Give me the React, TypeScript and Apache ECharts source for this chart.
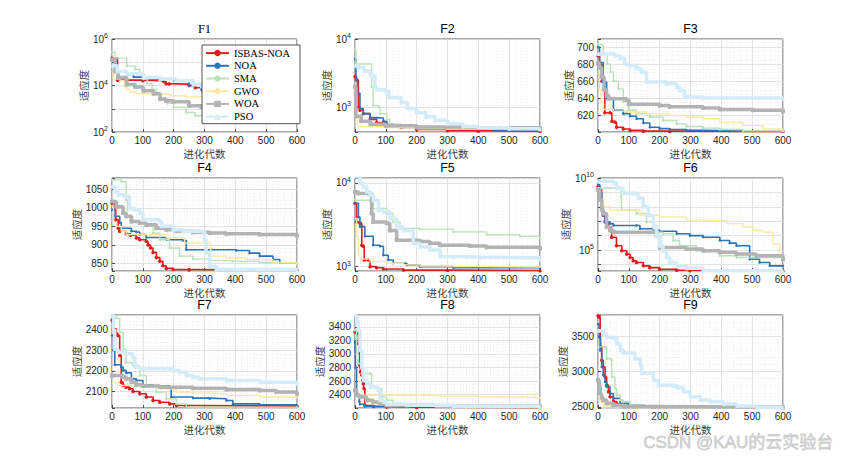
import React, { useEffect, useRef } from 'react';
import * as echarts from 'echarts';

type Pt = [number, number];

const SERIES_NAMES = ['ISBAS-NOA', 'NOA', 'SMA', 'GWO', 'WOA', 'PSO'];
const PANEL_TITLES = ['F1', 'F2', 'F3', 'F4', 'F5', 'F6', 'F7', 'F8', 'F9'];
const X_RANGE = [0, 600];
const X_STEP = 100;
const X_NAME = '进化代数';
const Y_NAME = '适应度';
const WATERMARK = 'CSDN @KAU的云实验台';

// y axis description per panel
const Y_TYPES = ['log', 'log', 'value', 'value', 'log', 'log', 'value', 'value', 'value'];
const Y_MIN = [100, 430, 600.5, 830, 888, 3500, 2020, 2202, 2485];
const Y_MAX = [1e6, 1e4, 709.5, 1080, 11400, 1e10, 2470, 3575, 3800];
const Y_LOG_EXPONENTS: number[][] = [[2, 4, 6], [3, 4], [], [], [3, 4], [5, 10], [], [], []];
const Y_LABEL_STEP = [0, 0, 20, 50, 0, 0, 100, 200, 500];
const Y_SPLIT_NUMBER = [5, 5, 5, 5, 5, 5, 5, 7, 3];
const Y_MINOR_SPLIT = [0, 0, 4, 5, 0, 0, 5, 4, 5];

// ---------- F1 ----------
const F1_ISBAS: Pt[] = [[0, 1.5e5], [18, 1.7e4], [100, 1.6e4], [167, 1.5e4], [175, 1.2e4], [185, 1.15e4], [250, 1.0e4], [270, 8e3], [295, 6e3], [330, 4.5e3], [380, 3e3], [430, 1.8e3], [480, 1.1e3], [530, 800], [570, 600], [600, 560]];
const F1_NOA: Pt[] = [[0, 1.3e5], [15, 3.8e4], [50, 3e4], [70, 2.3e4], [100, 1.85e4], [200, 1.7e4], [250, 1.0e4], [290, 6.6e3], [340, 4.5e3], [400, 3e3], [460, 2e3], [520, 1.6e3], [560, 1.4e3], [590, 1.0e3], [600, 1.0e3]];
const F1_SMA: Pt[] = [[0, 2.7e5], [10, 1.5e5], [48, 7e4], [75, 5e4], [90, 3e4], [102, 1.9e4], [115, 1.2e4], [130, 7e3], [145, 4.5e3], [160, 2.6e3], [180, 1.7e3], [200, 1.15e3], [240, 700], [270, 500], [300, 460], [400, 420], [600, 400]];
const F1_GWO: Pt[] = [[0, 3.5e4], [5, 1.9e4], [26, 1.6e4], [40, 9e3], [48, 7e3], [60, 5.1e3], [80, 4.4e3], [156, 4.2e3], [188, 3.6e3], [240, 3.2e3], [300, 2.8e3], [400, 2.5e3], [500, 2.3e3], [600, 2.2e3]];
const F1_WOA: Pt[] = [[0, 1.3e5], [10, 4e4], [20, 2.2e4], [48, 1.1e4], [75, 8.7e3], [102, 6e3], [135, 4.4e3], [156, 2.6e3], [175, 2.2e3], [199, 2e3], [250, 1.35e3], [290, 1.2e3], [350, 1.05e3], [450, 950], [550, 870], [600, 830]];
const F1_PSO: Pt[] = [[0, 7e4], [17, 4e4], [48, 3.2e4], [102, 2.2e4], [156, 1.9e4], [210, 1.6e4], [264, 1.1e4], [290, 9e3], [330, 6e3], [380, 3e3], [430, 1.2e3], [480, 600], [530, 420], [570, 380], [600, 360]];

// ---------- F2 ----------
const F2_ISBAS: Pt[] = [[0, 2.8e3], [5, 2.5e3], [11, 1.0e3], [16, 900], [27, 800], [49, 660], [70, 590], [103, 540], [150, 500], [200, 470], [300, 450], [400, 442], [600, 436]];
const F2_NOA: Pt[] = [[0, 5.1e3], [3, 2.5e3], [8, 1.6e3], [16, 950], [27, 800], [49, 700], [70, 690], [92, 620], [103, 560], [124, 520], [200, 500], [300, 480], [450, 460], [600, 450]];
const F2_SMA: Pt[] = [[0, 7e3], [3, 4.3e3], [54, 2e3], [59, 1.05e3], [76, 1.0e3], [81, 800], [103, 660], [113, 560], [150, 500], [300, 480], [600, 460]];
const F2_GWO: Pt[] = [[0, 1.5e3], [3, 700], [8, 520], [100, 500], [200, 480], [400, 470], [600, 465]];
const F2_WOA: Pt[] = [[0, 2e3], [3, 730], [20, 620], [50, 560], [100, 530], [200, 510], [400, 495], [600, 480]];
const F2_PSO: Pt[] = [[0, 4.05e3], [10, 3.8e3], [30, 3.4e3], [50, 2.9e3], [65, 2.0e3], [70, 1.8e3], [100, 1.7e3], [110, 1.38e3], [140, 1.38e3], [150, 1.17e3], [170, 950], [200, 830], [230, 720], [260, 640], [300, 570], [350, 520], [400, 495], [500, 480], [600, 470]];

// ---------- F3 ----------
const F3_ISBAS: Pt[] = [[0, 690], [5, 680], [13, 660], [22, 623], [39, 623], [45, 613], [55, 612], [60, 606], [82, 604], [104, 602.4], [147, 601.5], [233, 601.2], [600, 601]];
const F3_NOA: Pt[] = [[0, 700], [5, 682], [17, 659], [28, 640], [50, 626], [82, 622], [104, 619], [125, 616], [147, 611], [168, 606], [200, 604.5], [233, 603.5], [287, 602.5], [341, 601.8], [427, 601.3], [600, 601.1]];
const F3_SMA: Pt[] = [[0, 703], [17, 692], [30, 680], [40, 671], [50, 660], [66, 651], [82, 636], [98, 626], [125, 622], [168, 618], [211, 614], [255, 610], [287, 607], [341, 605], [395, 603.5], [470, 602], [600, 601.5]];
const F3_GWO: Pt[] = [[0, 672], [4, 650], [10, 635], [18, 627], [50, 625], [93, 624], [157, 622], [233, 620], [287, 618], [341, 616], [395, 612], [470, 608], [535, 604], [600, 601.5]];
const F3_WOA: Pt[] = [[0, 681], [5, 676], [12, 665], [20, 650], [28, 643], [35, 639.5], [93, 638], [100, 633], [200, 631.5], [233, 630], [341, 628.6], [395, 627], [503, 626], [600, 624.7]];
const F3_PSO: Pt[] = [[0, 692], [55, 690], [71, 687], [87, 680.5], [100, 678.5], [125, 674.5], [140, 670.7], [157, 659], [222, 657], [255, 653], [265, 649], [281, 641.5], [341, 640.3], [600, 639.5]];

// ---------- F4 ----------
const F4_ISBAS: Pt[] = [[0, 1012], [8, 995], [12, 968], [20, 945], [25, 937], [46, 930], [60, 926], [79, 919], [90, 914], [111, 910], [117, 900], [125, 892], [133, 880], [144, 866], [155, 856], [165, 844], [176, 837], [198, 834], [250, 833], [600, 832]];
const F4_NOA: Pt[] = [[0, 995], [10, 977], [25, 960], [30, 945], [63, 937], [79, 935], [90, 928], [111, 920], [176, 914], [230, 912], [241, 887], [403, 885], [446, 878], [479, 870], [522, 861], [544, 852], [600, 850]];
const F4_SMA: Pt[] = [[0, 1075], [30, 1070], [46, 1021], [50, 995], [90, 986], [100, 970], [111, 950], [133, 932], [155, 914], [187, 892], [219, 870], [263, 862], [317, 858], [392, 856], [479, 853], [600, 851]];
const F4_GWO: Pt[] = [[0, 1000], [5, 960], [15, 950], [30, 937], [46, 928], [155, 928], [176, 919], [230, 919], [235, 905], [317, 905], [320, 870], [371, 865], [436, 861], [522, 852], [600, 845]];
const F4_WOA: Pt[] = [[0, 1017], [14, 1003], [36, 986], [46, 977], [63, 963], [90, 959], [111, 954], [144, 945], [176, 941], [209, 937], [263, 934], [317, 932], [371, 930], [479, 928], [600, 925]];
const F4_PSO: Pt[] = [[0, 1057], [9, 1044], [19, 1035], [41, 1030], [57, 999], [74, 995], [90, 986], [100, 968], [155, 963], [160, 950], [198, 941], [230, 937], [295, 937], [300, 914], [305, 879], [317, 843], [338, 834], [600, 832]];

// ---------- F5 ----------
const F5_ISBAS: Pt[] = [[0, 5700], [5, 3400], [16, 3300], [22, 1800], [27, 1750], [30, 1200], [43, 1200], [49, 1000], [70, 970], [92, 940], [157, 910], [300, 900], [600, 895]];
const F5_NOA: Pt[] = [[0, 5700], [11, 3900], [16, 3000], [32, 2300], [59, 1800], [81, 1750], [92, 1370], [108, 1200], [124, 1100], [168, 1050], [211, 1000], [319, 970], [600, 960]];
const F5_SMA: Pt[] = [[0, 6200], [49, 6100], [59, 4950], [103, 4300], [124, 3400], [146, 2860], [211, 2800], [319, 2600], [427, 2400], [535, 2300], [600, 2200]];
const F5_GWO: Pt[] = [[0, 3760], [5, 2300], [11, 1400], [16, 1230], [49, 1150], [103, 1100], [157, 1050], [211, 1020], [319, 1000], [427, 990], [600, 970]];
const F5_WOA: Pt[] = [[0, 7800], [10, 7460], [54, 4300], [59, 3400], [103, 3300], [113, 2700], [135, 2070], [211, 2000], [243, 1900], [276, 1800], [373, 1760], [427, 1700], [600, 1650]];
const F5_PSO: Pt[] = [[0, 11800], [16, 9800], [27, 8960], [38, 7800], [49, 7100], [59, 6200], [76, 4700], [92, 4500], [113, 3760], [135, 3000], [157, 2700], [189, 1900], [211, 1730], [243, 1580], [276, 1320], [319, 1300], [405, 1280], [600, 1220]];

// ---------- F6 ----------
const F6_ISBAS: Pt[] = [[0, 2.6e9], [6, 1.5e9], [12, 1.7e8], [17, 2.6e7], [23, 9e6], [33, 4e6], [44, 7.8e5], [60, 2e5], [77, 9e4], [93, 5.2e4], [104, 3e4], [114, 1.8e4], [125, 1.35e4], [147, 8e3], [168, 6e3], [200, 4.6e3], [255, 3.9e3], [298, 3.6e3], [600, 3.55e3]];
const F6_NOA: Pt[] = [[0, 3.4e9], [6, 1e9], [12, 1.7e8], [17, 2.6e7], [23, 9e6], [39, 6.8e6], [50, 5.1e6], [125, 5.1e6], [136, 3e6], [179, 2.3e6], [200, 2e6], [255, 1.35e6], [298, 1e6], [341, 7.8e5], [395, 4.6e5], [427, 3e5], [449, 2e5], [492, 2.3e4], [524, 1.35e4], [557, 8e3], [600, 8e3]];
const F6_SMA: Pt[] = [[0, 2e9], [71, 2e9], [75, 5e8], [77, 6e7], [125, 3.4e7], [157, 9e6], [179, 1.7e6], [211, 1.35e6], [244, 4.6e5], [265, 2e5], [319, 9e4], [395, 4e4], [449, 3e4], [600, 2.3e4]];
const F6_GWO: Pt[] = [[0, 3e8], [17, 1e8], [39, 6e7], [125, 6e7], [136, 2.6e7], [200, 2e7], [287, 1.2e7], [341, 1.1e7], [416, 6.8e6], [470, 4e6], [503, 2.3e6], [535, 1.7e6], [567, 2.6e5], [589, 5e4], [600, 3e4]];
const F6_WOA: Pt[] = [[0, 1.5e9], [6, 3e8], [12, 6e7], [17, 3.4e7], [28, 4e6], [39, 2.3e6], [50, 1.7e6], [190, 1e6], [200, 1.5e5], [287, 1.2e5], [341, 9e4], [395, 7e4], [449, 5.2e4], [513, 4e4], [600, 2.3e4]];
const F6_PSO: Pt[] = [[0, 6e9], [50, 4.5e9], [60, 2e9], [82, 8.7e8], [114, 8e8], [131, 4e8], [147, 1e8], [163, 2.5e7], [179, 5e6], [190, 1e6], [200, 2e5], [211, 9e4], [222, 3.2e4], [233, 1.35e4], [255, 8e3], [287, 5.4e3], [341, 3.7e3], [600, 3.5e3]];

// ---------- F7 ----------
const F7_ISBAS: Pt[] = [[0, 2444], [5, 2403], [14, 2380], [19, 2371], [25, 2274], [30, 2145], [36, 2129], [46, 2121], [57, 2113], [68, 2100], [90, 2089], [111, 2073], [133, 2056], [155, 2048], [187, 2040], [209, 2032], [241, 2029], [600, 2028]];
const F7_NOA: Pt[] = [[0, 2371], [5, 2300], [9, 2229], [30, 2218], [36, 2202], [46, 2190], [63, 2161], [79, 2153], [100, 2132], [133, 2126], [187, 2121], [192, 2073], [263, 2068], [317, 2065], [371, 2056], [392, 2040], [479, 2035], [600, 2032]];
const F7_SMA: Pt[] = [[0, 2468], [14, 2455], [25, 2387], [36, 2306], [46, 2240], [68, 2226], [90, 2177], [111, 2129], [144, 2097], [176, 2065], [209, 2040], [241, 2024], [600, 2023]];
const F7_GWO: Pt[] = [[0, 2145], [19, 2129], [90, 2121], [155, 2113], [209, 2097], [263, 2092], [317, 2089], [371, 2081], [479, 2073], [600, 2065]];
const F7_WOA: Pt[] = [[0, 2177], [36, 2170], [46, 2161], [63, 2145], [79, 2132], [100, 2126], [155, 2121], [263, 2116], [371, 2110], [479, 2105], [533, 2097], [600, 2089]];
const F7_PSO: Pt[] = [[0, 2468], [5, 2400], [9, 2306], [19, 2290], [46, 2282], [68, 2266], [74, 2218], [90, 2210], [187, 2210], [198, 2202], [219, 2194], [241, 2177], [263, 2169], [284, 2161], [371, 2153], [479, 2145], [600, 2137]];

// ---------- F8 ----------
const F8_ISBAS: Pt[] = [[0, 3326], [8, 3301], [11, 3150], [14, 2907], [16, 2830], [18, 2735], [22, 2690], [25, 2612], [27, 2560], [29, 2489], [32, 2240], [60, 2225], [103, 2215], [200, 2208], [600, 2205]];
const F8_NOA: Pt[] = [[0, 3178], [2, 2800], [5, 2415], [11, 2390], [14, 2300], [16, 2257], [32, 2228], [103, 2220], [600, 2212]];
const F8_SMA: Pt[] = [[0, 3350], [5, 3000], [11, 2858], [22, 2710], [49, 2710], [54, 2513], [76, 2490], [86, 2366], [103, 2316], [124, 2267], [157, 2242], [600, 2218]];
const F8_GWO: Pt[] = [[0, 2420], [16, 2390], [265, 2378], [400, 2366], [492, 2356], [600, 2340]];
const F8_WOA: Pt[] = [[0, 2464], [5, 2390], [16, 2366], [38, 2316], [59, 2291], [81, 2267], [103, 2242], [265, 2228], [600, 2226]];
const F8_PSO: Pt[] = [[0, 3572], [5, 3498], [11, 3350], [16, 3055], [22, 2800], [27, 2612], [38, 2563], [49, 2513], [70, 2500], [76, 2464], [81, 2316], [92, 2291], [103, 2257], [168, 2242], [319, 2228], [600, 2218]];

// ---------- F9 ----------
const F9_ISBAS: Pt[] = [[0, 3790], [3, 3770], [7, 3579], [9, 3346], [12, 3159], [17, 3065], [23, 2925], [28, 2808], [34, 2715], [39, 2645], [50, 2575], [61, 2542], [82, 2514], [126, 2505], [600, 2495]];
const F9_NOA: Pt[] = [[0, 3673], [4, 3486], [7, 3299], [12, 3065], [17, 2950], [23, 2855], [28, 2785], [39, 2691], [50, 2621], [72, 2551], [99, 2528], [150, 2510], [600, 2497]];
const F9_SMA: Pt[] = [[0, 3350], [23, 3346], [28, 3182], [44, 3160], [45, 2925], [55, 2762], [61, 2670], [72, 2598], [82, 2575], [104, 2528], [150, 2515], [600, 2500]];
const F9_GWO: Pt[] = [[0, 2620], [10, 2560], [20, 2510], [100, 2500], [600, 2494]];
const F9_WOA: Pt[] = [[0, 2878], [4, 2785], [7, 2691], [12, 2630], [17, 2598], [28, 2551], [50, 2523], [82, 2505], [180, 2500], [600, 2490]];
const F9_PSO: Pt[] = [[0, 3579], [17, 3533], [28, 3486], [50, 3476], [61, 3393], [72, 3300], [82, 3262], [109, 3262], [120, 3182], [137, 3089], [142, 2981], [169, 2981], [180, 2878], [196, 2808], [245, 2800], [256, 2776], [277, 2715], [299, 2645], [332, 2598], [364, 2575], [407, 2542], [451, 2514], [516, 2495], [600, 2487]];

const PANEL_DATA: Pt[][][] = [
  [F1_ISBAS, F1_NOA, F1_SMA, F1_GWO, F1_WOA, F1_PSO],
  [F2_ISBAS, F2_NOA, F2_SMA, F2_GWO, F2_WOA, F2_PSO],
  [F3_ISBAS, F3_NOA, F3_SMA, F3_GWO, F3_WOA, F3_PSO],
  [F4_ISBAS, F4_NOA, F4_SMA, F4_GWO, F4_WOA, F4_PSO],
  [F5_ISBAS, F5_NOA, F5_SMA, F5_GWO, F5_WOA, F5_PSO],
  [F6_ISBAS, F6_NOA, F6_SMA, F6_GWO, F6_WOA, F6_PSO],
  [F7_ISBAS, F7_NOA, F7_SMA, F7_GWO, F7_WOA, F7_PSO],
  [F8_ISBAS, F8_NOA, F8_SMA, F8_GWO, F8_WOA, F8_PSO],
  [F9_ISBAS, F9_NOA, F9_SMA, F9_GWO, F9_WOA, F9_PSO],
];

// ---------- styling / layout ----------
const FONT_SANS = "'Liberation Sans', Arial, sans-serif";
const FONT_SERIF = "'Liberation Serif', 'Times New Roman', serif";
const FONT_CJK = "'Noto Sans CJK SC', sans-serif";
const FONT_MARK = "'Liberation Sans', 'Noto Sans CJK SC', sans-serif";
const INK = '#262626';

const SERIES_STYLE = [
  { color: '#e41a1c', width: 1.6, symbol: 'circle', size: 3.5 },
  { color: '#2c74b6', width: 1.6, symbol: 'circle', size: 2.5 },
  { color: '#b9e3b9', width: 1.4, symbol: 'circle', size: 2.5 },
  { color: '#fde8a1', width: 1.4, symbol: 'none', size: 0 },
  { color: '#b3b3b3', width: 3.5, symbol: 'rect', size: 4 },
  { color: '#d4ecf9', width: 3.5, symbol: 'triangle', size: 4 },
];

const COL_LEFT = [112, 355, 598];
const ROW_TOP = [39, 178, 315];
const PLOT_W = 185;
const PLOT_H = 93;
const Y_NAME_GAP = [21.5, 19.5, 20.5, 23, 19.5, 20.5, 23, 23, 21.5];

function buildOption() {
  const grids: any[] = [];
  const xAxes: any[] = [];
  const yAxes: any[] = [];
  const titles: any[] = [];
  const series: any[] = [];

  PANEL_TITLES.forEach((t, i) => {
    const left = COL_LEFT[i % 3];
    const top = ROW_TOP[Math.floor(i / 3)];
    grids.push({
      left, top, width: PLOT_W, height: PLOT_H,
      show: true, borderColor: INK, borderWidth: 0.8, backgroundColor: '#ffffff',
      containLabel: false,
    });
    titles.push({
      text: t,
      left: left + PLOT_W / 2,
      top: top - 16,
      padding: 0,
      textAlign: 'center',
      textStyle: {
        fontFamily: i === 0 ? FONT_SERIF : FONT_SANS,
        fontSize: 12.5,
        lineHeight: 12,
        fontWeight: 'normal',
        color: '#000',
      },
    });
    xAxes.push({
      type: 'value', gridIndex: i, min: X_RANGE[0], max: X_RANGE[1], interval: X_STEP,
      name: X_NAME, nameLocation: 'middle', nameGap: 16,
      nameTextStyle: { fontFamily: FONT_CJK, fontSize: 10.5, color: '#404040' },
      axisLine: { show: false },
      axisTick: { show: true, inside: true, length: 3, lineStyle: { color: INK, width: 0.8 } },
      axisLabel: { fontFamily: FONT_SANS, fontSize: 10, color: INK, margin: 3 },
      splitLine: { show: true, lineStyle: { color: '#dcdcdc', width: 0.8 } },
      minorTick: { show: false, splitNumber: 5 },
      minorSplitLine: { show: true, lineStyle: { color: '#e4e4e4', width: 0.6, type: [1, 2] } },
    });
    const yBase: any = {
      gridIndex: i,
      min: Y_MIN[i], max: Y_MAX[i],
      name: Y_NAME, nameLocation: 'middle', nameGap: Y_NAME_GAP[i],
      nameTextStyle: { fontFamily: FONT_CJK, fontSize: 10.5, color: '#404040' },
      axisLine: { show: false },
      axisTick: { show: true, inside: true, length: 3, lineStyle: { color: INK, width: 0.8 } },
      splitLine: { show: true, lineStyle: { color: '#dcdcdc', width: 0.8 } },
    };
    if (Y_TYPES[i] === 'log') {
      const exps = Y_LOG_EXPONENTS[i];
      yAxes.push({
        ...yBase, type: 'log', logBase: 10,
        axisLabel: {
          margin: 4, color: INK,
          formatter: (v: number) => {
            const e = Math.log10(v);
            const r = Math.round(e);
            return Math.abs(e - r) < 1e-6 && exps.includes(r) ? `{b|10}{s|${r}}` : '';
          },
          rich: {
            b: { fontFamily: FONT_SANS, fontSize: 10, color: INK, lineHeight: 14 },
            s: { fontFamily: FONT_SANS, fontSize: 7, color: INK, lineHeight: 8, verticalAlign: 'top' },
          },
        },
      });
    } else {
      const step = Y_LABEL_STEP[i];
      yAxes.push({
        ...yBase, type: 'value', splitNumber: Y_SPLIT_NUMBER[i],
        axisLabel: {
          margin: 4, fontFamily: FONT_SANS, fontSize: 10, color: INK,
          formatter: (v: number) => (Math.abs(v / step - Math.round(v / step)) < 1e-6 ? String(v) : ''),
        },
        minorTick: { show: false, splitNumber: Y_MINOR_SPLIT[i] },
        minorSplitLine: { show: true, lineStyle: { color: '#e4e4e4', width: 0.6, type: [1, 2] } },
      });
    }
    PANEL_DATA[i].forEach((data, k) => {
      const st = SERIES_STYLE[k];
      series.push({
        type: 'line', name: SERIES_NAMES[k], xAxisIndex: i, yAxisIndex: i,
        data, step: 'end',
        symbol: st.symbol, symbolSize: st.size, showSymbol: st.symbol !== 'none',
        lineStyle: { color: st.color, width: st.width },
        itemStyle: { color: st.color },
        emphasis: { disabled: true },
        silent: true,
        z: 2 + k * 0.01,
      });
    });
  });

  return {
    animation: false,
    backgroundColor: '#ffffff',
    title: titles,
    grid: grids,
    xAxis: xAxes,
    yAxis: yAxes,
    series,
    legend: {
      data: SERIES_NAMES,
      orient: 'vertical',
      left: 202, top: 45,
      padding: [2, 10, 1, 3],
      itemWidth: 23, itemHeight: 8, itemGap: 0.5,
      backgroundColor: '#ffffff',
      borderColor: INK, borderWidth: 0.8,
      selectedMode: false,
      textStyle: { fontFamily: FONT_SERIF, fontSize: 10.5, color: '#000', lineHeight: 12.2 },
    },
    graphic: [
      {
        type: 'text', left: 643, top: 434, z: 100,
        style: {
          text: WATERMARK,
          font: `17px ${FONT_MARK}`,
          fill: '#d0d0d0', stroke: '#ababab', lineWidth: 0.4,
        },
      },
    ],
  };
}

export default function App() {
  const ref = useRef<HTMLDivElement | null>(null);
  useEffect(() => {
    if (!ref.current) return;
    const chart = echarts.init(ref.current, null, { renderer: 'svg' });
    chart.setOption(buildOption() as any);
    return () => chart.dispose();
  }, []);
  return (
    <div
      ref={ref}
      style={{ position: 'fixed', left: 0, top: 0, width: 865, height: 462, background: '#fff' }}
    />
  );
}
